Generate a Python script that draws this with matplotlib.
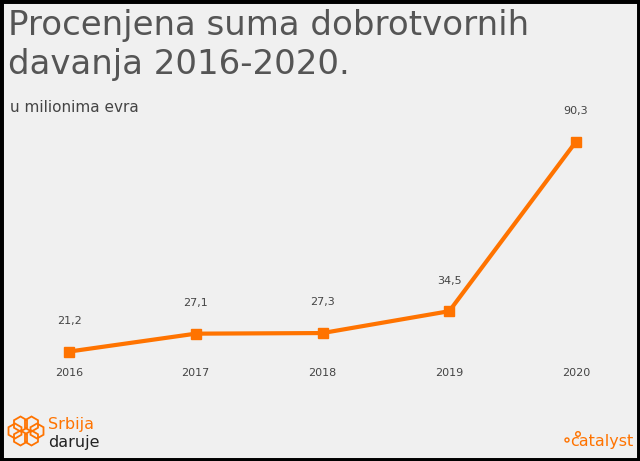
import matplotlib.pyplot as plt
from matplotlib.patches import Rectangle, RegularPolygon, Circle

# podaci
godine = ['2016', '2017', '2018', '2019', '2020']
iznosi = [21.2, 27.1, 27.3, 34.5, 90.3]
oznake = ['21,2', '27,1', '27,3', '34,5', '90,3']

NARANDZASTA = '#ff7300'
SIVA = '#555555'
POZADINA = '#f0f0f0'

plt.rcParams['font.family'] = ['DejaVu Sans']


def nacrtaj():
    fig = plt.figure(figsize=(6.4, 4.61), dpi=100, facecolor=POZADINA)

    # okvir oko slike
    fig.patches.append(Rectangle((0, 0), 1, 1, transform=fig.transFigure,
                                 fill=False, edgecolor='black', linewidth=5))

    # naslov i podnaslov
    fig.text(0.012, 1 - 35 / 461, 'Procenjena suma dobrotvornih',
             fontsize=24.5, color=SIVA, va='baseline', ha='left')
    fig.text(0.012, 1 - 74 / 461, 'davanja 2016-2020.',
             fontsize=24.5, color=SIVA, va='baseline', ha='left')
    fig.text(0.016, 1 - 107 / 461, 'u milionima evra', fontsize=11,
             color='#444444', va='center', ha='left')

    ax = fig.add_axes([0, 45 / 461, 1, 316 / 461])
    ax.set_facecolor(POZADINA)
    x = list(range(len(godine)))
    ax.plot(x, iznosi, color=NARANDZASTA, linewidth=3, marker='s',
            markersize=7, clip_on=False)
    ax.set_xlim(-69 / 126.75, 4 + 64 / 126.75)
    ax.set_ylim(0, 104)
    ax.axis('off')

    # vrednosti iznad tacaka
    for xi, yi, txt in zip(x, iznosi, oznake):
        ax.annotate(txt, (xi, yi), xytext=(0, 22), textcoords='offset points',
                    ha='center', va='center', fontsize=8, color='#444444')

    # godine ispod linije
    for xi, g in zip(x, godine):
        ax.text(xi, 14.3, g, ha='center', va='center', fontsize=8,
                color='#444444')

    # logo Srbija daruje
    cx, cy = 26, 461 - 431
    for dx, dy in [(11, 0), (5.5, 7), (-5.5, 7), (-11, 0),
                   (-5.5, -7), (5.5, -7)]:
        fig.patches.append(RegularPolygon((cx + dx, cy + dy), 6,
                                          radius=7.5, orientation=0,
                                          transform=None, fill=False,
                                          edgecolor=NARANDZASTA, linewidth=1.3))
    fig.text(48 / 640, 1 - 424 / 461, 'Srbija', fontsize=11.5,
             color=NARANDZASTA, va='center')
    fig.text(48 / 640, 1 - 442 / 461, 'daruje', fontsize=11.5,
             color='#222222', va='center')

    # logo catalyst
    fig.text(633 / 640, 1 - 441 / 461, 'catalyst', fontsize=11.5,
             color=NARANDZASTA, ha='right', va='center')
    fig.patches.append(Circle((567, 461 - 440), 2, transform=None, fill=False,
                              edgecolor=NARANDZASTA, linewidth=1))
    fig.patches.append(Circle((578, 461 - 434), 2.3, transform=None, fill=False,
                              edgecolor=NARANDZASTA, linewidth=1))

    fig.savefig('out.png', dpi=100, facecolor=POZADINA)


if __name__ == '__main__':
    nacrtaj()
